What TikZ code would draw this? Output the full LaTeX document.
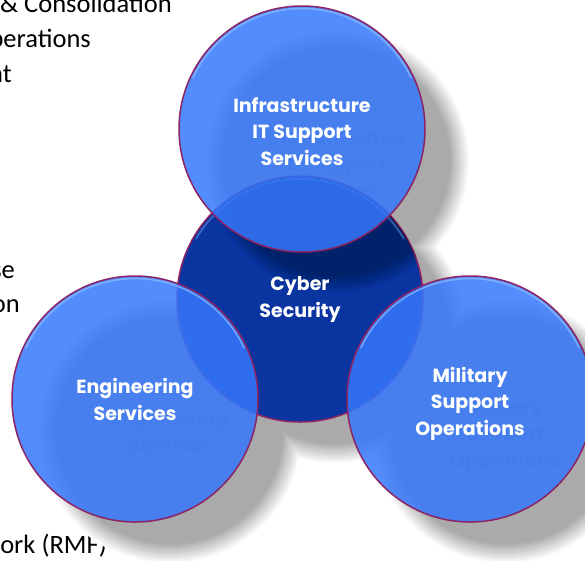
\documentclass[tikz,border=0pt]{standalone}
\usepackage{fontspec}
\setmainfont{Carlito}
\newfontfamily\circfont{Poppins}
\usetikzlibrary{calc}
\definecolor{ballblue}{RGB}{54,120,252}
\definecolor{coreblue}{RGB}{10,52,160}
\definecolor{rimline}{RGB}{140,35,100}
\definecolor{rimlight}{RGB}{140,190,255}
\definecolor{shadowgray}{RGB}{170,170,170}
\definecolor{ghostgray}{RGB}{120,120,120}
\begin{document}
\begin{tikzpicture}[x=1pt,y=-1pt,
  ball/.style={fill=ballblue, fill opacity=0.85, draw=rimline, draw opacity=1, line width=1.5pt},
  coreball/.style={fill=coreblue, draw=rimline, line width=1.5pt},
  rimhl/.style={draw=rimlight, line width=1.6pt, opacity=0.7},
  lefttext/.style={font=\fontsize{26.5}{30}\selectfont, text=black, inner sep=0pt},
  ctext/.style={font=\circfont\bfseries\fontsize{19}{26.5}\selectfont, text=white, align=center, inner sep=0pt},
  ghost/.style={font=\circfont\bfseries\fontsize{19}{26.5}\selectfont, text=ghostgray, text opacity=0.45, align=center, inner sep=0pt}]
\useasboundingbox (0,0) rectangle (585,560);
\fill[white] (0,0) rectangle (585,560);
\def\R{123}
\coordinate (cT) at (302,129);
\coordinate (cC) at (300,299);
\coordinate (cL) at (135,399);
\coordinate (cR) at (470,399);
\coordinate (sT) at ($(cT)+(35,32)$);
\coordinate (sC) at ($(cC)+(35,32)$);
\coordinate (sL) at ($(cL)+(35,32)$);
\coordinate (sR) at ($(cR)+(35,32)$);
% left texts
\node[lefttext, anchor=base east] (t1) at (172,12) {\& Consolidation};
\node[lefttext, anchor=base east] (t2) at (91,47) {perations};
\node[lefttext, anchor=base east] (t3) at (12,82) {nt};
\node[lefttext, anchor=base east] (t4) at (15,278) {se};
\node[lefttext, anchor=base east] (t5) at (20,312) {on};
\node[lefttext, anchor=base east] (t6) at (107,553) {ork (RMF)};
% blurred shadow
\foreach \k in {10,9,...,-10} {
  \pgfmathtruncatemacro\f{(10-\k)*5}
  \pgfmathsetmacro\r{\R+\k}
  \foreach \c in {sT,sC,sL,sR} {
    \fill[shadowgray!\f!white] (\c) circle[radius=\r pt];
  }
}
% ghost text (shadow of labels)
\node[ghost, anchor=base] (gT) at ($(cT)+(35,36+32)$) {Infrastructure\\IT Support\\Services};
\node[ghost, anchor=base] (gC) at ($(cC)+(35,18+32)$) {Cyber\\Security};
\node[ghost, anchor=base] (gL) at ($(cL)+(35,21+32)$) {Engineering\\Services};
\node[ghost, anchor=base] (gR) at ($(cR)+(35,36+32)$) {Military\\Support\\Operations};
% core circle
\path[coreball] (cC) circle[radius=\R pt];
\begin{scope}
  \clip (cC) circle[radius=\R pt];
  \foreach \k in {8,7,...,-8} {
    \pgfmathsetmacro\r{\R+\k}
    \fill[black, opacity=0.02] (sT) circle[radius=\r pt];
  }
\end{scope}
\draw[rimhl, opacity=0.4] (cC) ++(150:120pt) arc[start angle=150, end angle=30, radius=120pt];
% outer circles
\foreach \c in {cT,cL,cR} {
  \path[ball] (\c) circle[radius=\R pt];
  \draw[rimhl] (\c) ++(155:120.5pt) arc[start angle=155, end angle=25, radius=120.5pt];
}
% labels (anchor = baseline of last line)
\node[ctext, anchor=base] (lT) at ($(cT)+(0,36)$) {Infrastructure\\IT Support\\Services};
\node[ctext, anchor=base] (lC) at ($(cC)+(0,18)$) {Cyber\\Security};
\node[ctext, anchor=base] (lL) at ($(cL)+(0,21)$) {Engineering\\Services};
\node[ctext, anchor=base] (lR) at ($(cR)+(0,36)$) {Military\\Support\\Operations};
\end{tikzpicture}
\end{document}
